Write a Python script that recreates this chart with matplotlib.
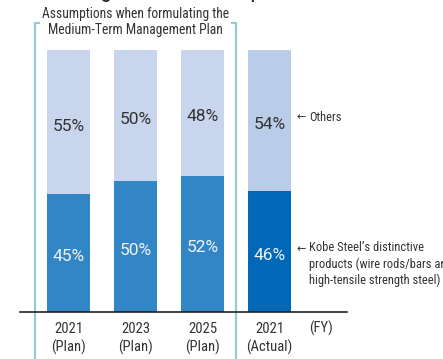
import matplotlib
matplotlib.use("Agg")
import matplotlib.pyplot as plt

plt.rcParams['font.family'] = ['Roboto Condensed', 'DejaVu Sans']

categories = ["2021\n(Plan)", "2023\n(Plan)", "2025\n(Plan)", "2021\n(Actual)"]
distinctive = [45, 50, 52, 46]
others = [55, 50, 48, 54]

c_dist = ["#3386c6", "#3386c6", "#3386c6", "#0068b7"]
c_oth = ["#c9d5ec", "#c9d5ec", "#c9d5ec", "#b9cce8"]
bracket_col = "#94cbdb"
txt = "#333333"

W, H = 443, 359
fig = plt.figure(figsize=(W / 100, H / 100), dpi=100)
# axes in pixel terms: x 20..347, y bottom at 312, 100% at 50
ax = fig.add_axes([20 / W, 1 - 312 / H, 327 / W, 262 / H])
ax.set_xlim(-0.724, 4.157)
ax.set_ylim(0, 100)

x = range(len(categories))
ax.bar(x, distinctive, width=0.64, color=c_dist)
ax.bar(x, others, bottom=distinctive, width=0.64, color=c_oth)

for i in x:
    ax.text(i, distinctive[i] * 0.47, f"{distinctive[i]}%", ha="center", va="center",
            fontsize=12.5, color="#eef3fa", family="Roboto")
    ax.text(i, distinctive[i] + others[i] * 0.47, f"{others[i]}%",
            ha="center", va="center", fontsize=12.5, color=txt, family="Roboto")

for s in ["top", "right", "left"]:
    ax.spines[s].set_visible(False)
ax.spines["bottom"].set_color("#222222")
ax.spines["bottom"].set_linewidth(1.2)
ax.set_yticks([])
ax.set_xticks(list(x))
ax.set_xticklabels(categories, fontsize=10.5, color=txt, linespacing=1.3)
ax.tick_params(axis="x", length=0, pad=7)
ax.text(3.77, -6.1, "(FY)", ha="center", va="center", fontsize=10.5, color=txt)

# bracket around plan years
top, bot = 110.3, -18.5
for xb, d in [(-0.5, 0.075), (2.5, -0.075)]:
    ax.plot([xb + d, xb, xb], [top, top, bot], color=bracket_col, lw=1.6,
            clip_on=False, solid_capstyle="butt")
ax.text(1.0, 110.6, "Assumptions when formulating the\nMedium-Term Management Plan",
        ha="center", va="center", fontsize=9.8, color=txt, linespacing=1.2)

# annotations
ax.text(3.41, 74.4, "\u2190", ha="left", va="center", fontsize=8, color=txt,
        family="DejaVu Sans")
ax.text(3.59, 74.4, "Others", ha="left", va="center", fontsize=9, color=txt)
ax.text(3.41, 24.0, "\u2190", ha="left", va="center", fontsize=8, color=txt,
        family="DejaVu Sans")
ax.text(3.59, 27.0, "Kobe Steel\u2019s distinctive\nproducts (wire rods/bars and\nhigh-tensile strength steel)",
        ha="left", va="top", fontsize=9, color=txt, linespacing=1.3)

fig.text(20 / W, 1 + 3 / H, "Percentage of distinctive products", ha="left",
         va="baseline", fontsize=16.5, color="#222222")

fig.savefig("out.png", dpi=100)
